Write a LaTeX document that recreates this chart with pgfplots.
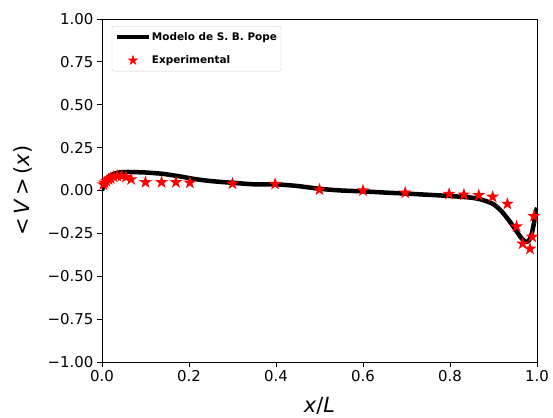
\documentclass[border=0pt]{standalone}
\usepackage{fontspec}
\setmainfont{DejaVu Sans}[ItalicFont={DejaVu Sans Oblique},BoldFont={DejaVu Sans Bold}]
\usepackage{pgfplots}
\pgfplotsset{compat=1.18}
\pgfdeclareplotmark{fstar}{%
  \pgfpathmoveto{\pgfpointpolar{90}{6.8bp}}%
  \pgfpathlineto{\pgfpointpolar{126}{2.6bp}}%
  \pgfpathlineto{\pgfpointpolar{162}{6.8bp}}%
  \pgfpathlineto{\pgfpointpolar{198}{2.6bp}}%
  \pgfpathlineto{\pgfpointpolar{234}{6.8bp}}%
  \pgfpathlineto{\pgfpointpolar{270}{2.6bp}}%
  \pgfpathlineto{\pgfpointpolar{306}{6.8bp}}%
  \pgfpathlineto{\pgfpointpolar{342}{2.6bp}}%
  \pgfpathlineto{\pgfpointpolar{18}{6.8bp}}%
  \pgfpathlineto{\pgfpointpolar{54}{2.6bp}}%
  \pgfpathclose\pgfusepath{fill}}
\begin{document}
\begin{tikzpicture}[x=1bp,y=1bp]
\useasboundingbox (-102,-55) rectangle (451,362);
\begin{axis}[
  at={(0,0)}, anchor=south west,
  width=435bp, height=343bp, scale only axis,
  xmin=0, xmax=1, ymin=-1, ymax=1,
  axis line style={line width=0.8bp},
  tick align=outside, tick pos=left,
  major tick length=5bp,
  every tick/.style={black, line width=0.8bp},
  xtick={0,0.2,0.4,0.6,0.8,1},
  xticklabels={0.0,0.2,0.4,0.6,0.8,1.0},
  ytick={-1,-0.75,-0.5,-0.25,0,0.25,0.5,0.75,1},
  yticklabels={−1.00,−0.75,−0.50,−0.25,0.00,0.25,0.50,0.75,1.00},
  ticklabel style={font=\fontsize{15}{15}\selectfont, text=black},
  xlabel={\textit{x}/\textit{L}},
  ylabel={<\,\textit{V}\,>\,(\textit{x})},
  xlabel style={font=\fontsize{21}{21}\selectfont, at={(axis description cs:0.5,-0.128)}, anchor=center},
  ylabel style={font=\fontsize{21}{21}\selectfont, at={(axis description cs:-0.1816,0.5)}, anchor=center, rotate=0},
  legend cell align=left,
  legend style={at={(axis description cs:0.0225,0.9795)}, anchor=north west,
    draw=black!20, rounded corners=2bp, font=\bfseries\fontsize{10.5}{12}\selectfont,
    inner xsep=3bp, inner ysep=4bp, row sep=10bp,
    nodes={inner xsep=1bp}},
]
\addplot[black, line width=4.5bp, smooth, tension=0.4, line join=round,
  legend image code/.code={\draw[black,line width=4bp,sharp corners] (0bp,0bp)--(32bp,0bp);}]
coordinates {
(0,0.0) (0.005,0.04) (0.01,0.065) (0.02,0.088) (0.03,0.1) (0.04,0.105)
(0.06,0.108) (0.1,0.105) (0.14,0.097) (0.18,0.082) (0.21,0.068)
(0.25,0.055) (0.3,0.045) (0.35,0.036) (0.4,0.036) (0.45,0.026)
(0.5,0.01) (0.55,0.0) (0.6,-0.005) (0.65,-0.012) (0.7,-0.018)
(0.75,-0.025) (0.8,-0.032) (0.85,-0.042) (0.875,-0.055) (0.9,-0.08)
(0.92,-0.125) (0.94,-0.19) (0.955,-0.245) (0.965,-0.28) (0.975,-0.30)
(0.982,-0.29) (0.988,-0.25) (0.993,-0.19) (0.997,-0.13) (1.0,-0.1)
};
\addlegendentry{Modelo de S. B. Pope}
\addplot[only marks, mark=fstar, color=red,
  legend image code/.code={%
    \begin{scope}[shift={(16bp,0bp)}, sharp corners]
    \fill[red] (90:4.9bp) -- (126:1.87bp) -- (162:4.9bp) -- (198:1.87bp)
      -- (234:4.9bp) -- (270:1.87bp) -- (306:4.9bp) -- (342:1.87bp)
      -- (18:4.9bp) -- (54:1.87bp) -- cycle;
    \end{scope}}]
coordinates {
(0.003,0.035) (0.006,0.045) (0.01,0.055) (0.015,0.065) (0.02,0.07)
(0.027,0.08) (0.035,0.085) (0.045,0.085) (0.055,0.078) (0.067,0.065)
(0.1,0.048) (0.137,0.048) (0.17,0.048) (0.202,0.045) (0.3,0.04)
(0.398,0.038) (0.5,0.005) (0.6,0.0) (0.697,-0.013) (0.798,-0.02)
(0.832,-0.024) (0.866,-0.028) (0.898,-0.037) (0.932,-0.078)
(0.953,-0.21) (0.967,-0.31) (0.984,-0.34) (0.989,-0.27) (0.993,-0.15)
};
\addlegendentry{Experimental}
\end{axis}
\end{tikzpicture}
\end{document}
